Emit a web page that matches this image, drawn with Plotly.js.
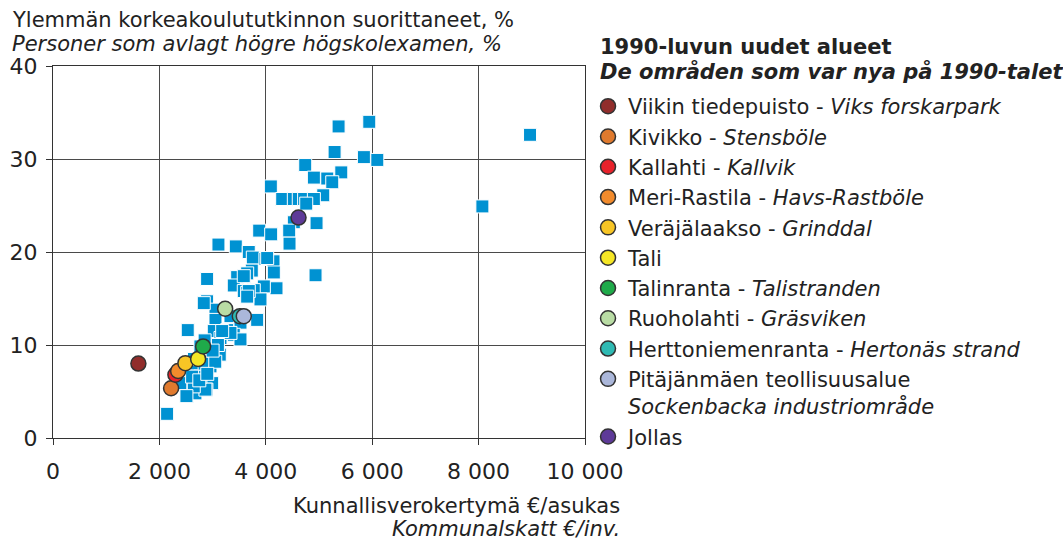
<!DOCTYPE html>
<html>
<head>
<meta charset="utf-8">
<script src="https://cdn.plot.ly/plotly-3.0.1.min.js"></script>
<style>html,body{margin:0;padding:0;background:#fff;}#chart{width:1063px;height:540px;}</style>
</head>
<body>
<div id="chart"></div>
<script>
// Other districts (blue squares): municipal tax €/inhabitant, share with higher university degree %
const otherTax = [5368,5945,5293,5844,6096,4741,5419,4904,5155,5249,4095,5080,4308,4527,4620,4720,4904,4760,4527,4954,
  3876,4101,4440,4446,3110,3436,3680,3756,3994,4145,3737,4151,4935,2897,3462,3650,4201,3963,3398,3774,
  3586,3650,3900,2897,3054,3838,3054,3336,3524,2533,3022,3274,3398,3524,3148,2771,3135,2960,2709,2583,
  2992,2709,2884,2521,2395,2145,2677,8967,8071,2834,2865,2646,2508,3336,3180,2771,2615,4026,3586,3680,
  3650,2650,2850,3050,2750,2900,3100,2850,3000];
const otherEdu = [33.5,34.0,30.75,30.2,29.9,29.35,28.56,28.0,27.9,27.5,27.05,26.1,25.7,25.7,25.7,25.7,25.7,25.2,23.2,23.1,
  22.3,21.9,22.3,20.9,20.8,20.6,20.0,19.4,19.25,19.0,18.0,17.8,17.5,17.1,17.3,17.7,16.1,16.3,16.4,15.9,
  15.8,15.6,14.9,14.7,13.8,12.7,12.7,13.1,12.4,11.6,11.5,11.6,11.1,10.6,10.75,9.85,8.96,7.7,7.3,6.6,
  5.9,5.55,5.2,4.5,5.9,2.6,4.8,32.6,24.9,14.5,5.2,5.55,4.5,11.3,11.5,6.6,6.6,19.35,17.4,15.8,
  15.2,8.5,8.0,8.2,6.2,6.9,10.0,10.5,9.4];

// New areas of the 1990s
const newAreaNames = [
  "Viikin tiedepuisto - <i>Viks forskarpark</i>",
  "Kivikko - <i>Stensböle</i>",
  "Kallahti - <i>Kallvik</i>",
  "Meri-Rastila - <i>Havs-Rastböle</i>",
  "Veräjälaakso - <i>Grinddal</i>",
  "Tali",
  "Talinranta - <i>Talistranden</i>",
  "Ruoholahti - <i>Gräsviken</i>",
  "Herttoniemenranta - <i>Hertonäs strand</i>",
  "Pitäjänmäen teollisuusalue<br><i>Sockenbacka industriområde</i>",
  "Jollas"
];
const newAreaTax = [1605,2220,2301,2352,2489,2728,2822,3236,3511,3586,4615];
const newAreaEdu = [8.0,5.35,6.8,7.2,8.05,8.5,9.85,13.9,13.1,13.1,23.7];
const newAreaColors = ["#912d2b","#e07a2e","#e8222b","#f28b2c","#f7c525","#f5e625","#1faa4a","#b9dca4","#2fbab3","#abb7da","#5e3a98"];

const xTickVals = [0,2000,4000,6000,8000,10000];
const xTickText = ["0","2 000","4 000","6 000","8 000","10 000"];
const yTickVals = [0,10,20,30,40];

const yTitleLines = ["Ylemmän korkeakoulututkinnon suorittaneet, %", "<i>Personer som avlagt högre högskolexamen, %</i>"];
const xTitleLines = ["Kunnallisverokertymä €/asukas", "<i>Kommunalskatt €/inv.</i>"];
const legendTitleLines = ["<b>1990-luvun uudet alueet</b>", "<b><i>De områden som var nya på 1990-talet</i></b>"];

const traces = [{
  type: "scatter", mode: "markers", x: otherTax, y: otherEdu, showlegend: false, hoverinfo: "skip",
  marker: {symbol: "square", size: 13, color: "#0092d2", line: {color: "#ffffff", width: 1}}
}];
newAreaNames.forEach((n, i) => {
  traces.push({
    type: "scatter", mode: "markers", name: n,
    x: [newAreaTax[i]], y: [newAreaEdu[i]],
    marker: {symbol: "circle", size: 15, color: newAreaColors[i], line: {color: "#333333", width: 1.5}}
  });
});

const fam = "DejaVu Sans, Verdana, sans-serif";
const tickFont = {family: fam, size: 22, color: "#222222"};
const titleFont = {family: fam, size: 21, color: "#222222"};
const legFont = {family: fam, size: 21, color: "#222222"};

function ann(text, x, y, xanchor, font) {
  return {xref: "paper", yref: "paper", x: x, y: y, xanchor: xanchor, yanchor: "middle",
          align: xanchor, showarrow: false, text: text, font: font};
}

const layout = {
  width: 1063, height: 540,
  margin: {l: 53, r: 478, t: 66, b: 102},
  paper_bgcolor: "#ffffff", plot_bgcolor: "#ffffff",
  font: legFont,
  xaxis: {
    range: [0, 10000], tickvals: xTickVals, ticktext: xTickText, tickfont: tickFont,
    showgrid: true, gridcolor: "#4a4a4a", gridwidth: 1,
    showline: true, linecolor: "#333333", linewidth: 1, mirror: true,
    ticks: "outside", ticklen: 6, tickcolor: "#333333", ticklabelstandoff: 8,
    zeroline: false, fixedrange: true
  },
  yaxis: {
    range: [0, 40], tickvals: yTickVals, tickfont: tickFont,
    showgrid: true, gridcolor: "#4a4a4a", gridwidth: 1,
    showline: true, linecolor: "#333333", linewidth: 1, mirror: true,
    ticks: "outside", ticklen: 6, tickcolor: "#333333", ticklabelstandoff: 4,
    zeroline: false, fixedrange: true
  },
  legend: {
    xref: "container", yref: "container", x: 0.5607, y: 0.8407, xanchor: "left", yanchor: "top",
    font: legFont, bgcolor: "rgba(0,0,0,0)", borderwidth: 0, maxheight: 1,
    indentation: -8, valign: "top", tracegroupgap: 0
  },
  annotations: [
    ann(yTitleLines[0], -0.081, 1.1237, "left", titleFont),
    ann(yTitleLines[1], -0.081, 1.059, "left", titleFont),
    ann(xTitleLines[0], 1.0695, -0.1828, "right", titleFont),
    ann(xTitleLines[1], 1.0695, -0.2446, "right", titleFont),
    ann(legendTitleLines[0], 1.0244, 1.0511, "left", legFont),
    ann(legendTitleLines[1], 1.0244, 0.9839, "left", legFont)
  ],
  hovermode: false
};
Plotly.newPlot("chart", traces, layout, {staticPlot: true, displayModeBar: false});
</script>
</body>
</html>
